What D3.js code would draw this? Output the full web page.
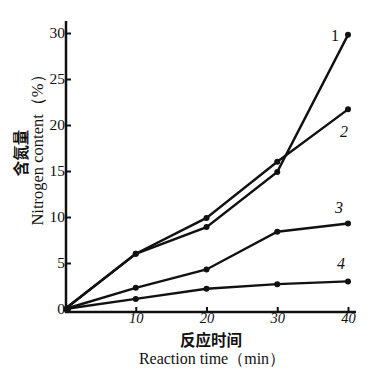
<!DOCTYPE html>
<html lang="zh">
<head>
<meta charset="UTF-8">
<title>Nitrogen content vs reaction time</title>
<script src="https://d3js.org/d3.v7.min.js"></script>
<style>
    body{ margin:0; background:#fff; }
    .serie{ fill:none; stroke:#111; stroke-width:2.4px; }
</style>
</head>
<body>
<svg id="canvas" width="376" height="383"></svg>
<script>
    // reaction time (min)
    let times = [0, 10, 20, 30, 40]
    // nitrogen content (%) per curve
    let curve1 = [0, 6.0, 8.9, 14.9, 29.8]
    let curve2 = [0, 6.0, 9.9, 16.0, 21.7]
    let curve3 = [0, 2.3, 4.3, 8.4, 9.3]
    let curve4 = [0, 1.1, 2.2, 2.7, 3.0]
    let curveNames = ["1", "2", "3", "4"]
    let xTicks = [10, 20, 30, 40]
    let yTicks = [0, 5, 10, 15, 20, 25, 30]

    let serif = "'Liberation Serif','DejaVu Serif',serif"
    let svg = d3.select('#canvas')
    let x = d3.scaleLinear().domain([0, 40]).range([65, 348])
    let y = d3.scaleLinear().domain([0, 30]).range([309, 33])

    // axes
    let xAxis = d3.axisBottom(x).tickValues(xTicks).tickSize(-5).tickSizeOuter(0).tickPadding(1)
    let gx = svg.append('g').attr("transform", "translate(0,312)").call(xAxis)
    gx.select(".domain").attr("d", "M65,0H356").attr("stroke", "#111").attr("stroke-width", 2.5)
    gx.selectAll(".tick line").attr("stroke", "#111").attr("stroke-width", 2)
    gx.selectAll(".tick text").style("font-family", serif).style("font-size", "14.5px")
        .style("font-style", "italic").attr("fill", "#111")

    let yAxis = d3.axisLeft(y).tickValues(yTicks).tickSize(-5).tickSizeOuter(0).tickPadding(1)
    let gy = svg.append('g').attr("transform", "translate(66,0)").call(yAxis)
    gy.select(".domain").attr("d", "M0,21V313").attr("stroke", "#111").attr("stroke-width", 2.5)
    gy.selectAll(".tick line").attr("stroke", "#111").attr("stroke-width", 2)
    gy.selectAll(".tick text").style("font-family", serif).style("font-size", "15.5px").attr("fill", "#111")

    // curves
    let series = [curve1, curve2, curve3, curve4]
    let line = d3.line().x((d, i) => x(times[i])).y(d => y(d))
    series.forEach(s => {
        svg.append("path").attr("class", "serie").attr("d", line(s))
        svg.selectAll(null).data(s.slice(1)).enter().append("circle")
            .attr("cx", (d, i) => x(times[i + 1])).attr("cy", d => y(d))
            .attr("r", 3).attr("fill", "#111")
    })
    svg.append("circle").attr("cx", x(0) + 2).attr("cy", y(0)).attr("r", 3.5).attr("fill", "#111")

    // curve numbers
    let labelPos = [[-13, 6], [-4, 28], [-9, -10], [-7, -12]]
    series.forEach((s, i) => {
        svg.append("text")
            .attr("x", x(40) + labelPos[i][0]).attr("y", y(s[4]) + labelPos[i][1])
            .attr("text-anchor", "middle").attr("fill", "#111")
            .style("font-family", serif).style("font-size", "16px")
            .style("font-style", i > 0 ? "italic" : "normal")
            .text(curveNames[i])
    })

    // axis titles
    svg.append("text").attr("x", 211).attr("y", 346).attr("text-anchor", "middle").attr("fill", "#111")
        .style("font-family", "'Noto Sans CJK SC'").style("font-weight", "bold").style("font-size", "15.5px")
        .text("反应时间")
    svg.append("text").attr("x", 212).attr("y", 364).attr("text-anchor", "middle").attr("fill", "#111")
        .style("font-family", serif).style("font-size", "16px")
        .text("Reaction time（min）")

    svg.append("text").attr("transform", "translate(27,153) rotate(-90)").attr("text-anchor", "middle").attr("fill", "#111")
        .style("font-family", "'Noto Sans CJK SC'").style("font-weight", "bold").style("font-size", "15.5px")
        .text("含氮量")
    svg.append("text").attr("transform", "translate(43,146) rotate(-90)").attr("text-anchor", "middle").attr("fill", "#111")
        .style("font-family", serif).style("font-size", "16.5px")
        .text("Nitrogen content（%）")
</script>
</body>
</html>
